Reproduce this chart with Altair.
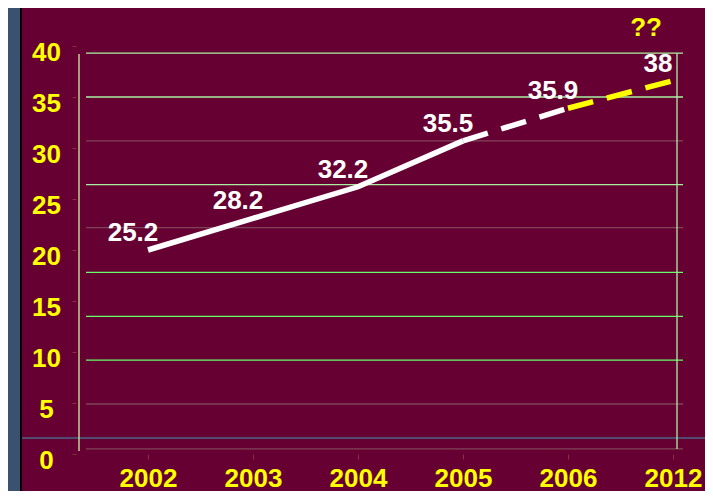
import altair as alt
import pandas as pd

# ---- data ----
years = ["2002", "2003", "2004", "2005", "2006", "2012"]
line_values = [20.0, 23.1, 26.2, 30.7, 33.9, 36.6]          # where the drawn line sits
point_labels = ["25.2", "28.2", "32.2", "35.5", "35.9", "38"]  # printed numbers
segment = ["actual", "actual", "actual", "actual", "trend", "forecast"]

y_ticks = [0, 5, 10, 15, 20, 25, 30, 35, 40]
grid_values = [39.3, 35.0, 30.7, 26.4, 22.2, 17.8, 13.5, 9.2, 4.9, 0.5]
grid_kind = ["pale", "pale", "dark", "pale", "dark", "bright", "bright", "bright", "dark", "dark"]

MAROON = "#660033"
BLUEGREY = "#3a5270"
YELLOW = "#ffff00"
FONT = "Liberation Sans"
FS = 26

df = pd.DataFrame({"year": years, "v": line_values, "label": point_labels,
                   "idx": list(range(len(years))), "seg": segment})
grid_df = pd.DataFrame({"v": grid_values, "kind": grid_kind})
one = pd.DataFrame({"a": [0]})

x_scale = alt.Scale(type="point", range=[69, 594], padding=0)
y_scale = alt.Scale(domain=[0, 40])

x_axis = alt.Axis(title=None, labelAngle=0, domain=False, grid=False,
                  tickSize=5, tickColor="#8a3040", labelColor=YELLOW,
                  labelFont=FONT, labelFontWeight="bold", labelFontSize=FS,
                  labelBaseline="middle", labelPadding=19)
y_axis = alt.Axis(title=None, values=y_ticks, domain=False, grid=False,
                  offset=3, tickSize=4, tickColor="#8a3040",
                  labelColor=YELLOW, labelFont=FONT, labelFontWeight="bold",
                  labelFontSize=FS, labelAlign="center", labelBaseline="middle",
                  labelPadding=26, labelOffset=6)

x_enc = alt.X("year:O", sort=years, scale=x_scale, axis=x_axis)
y_enc = alt.Y("v:Q", scale=y_scale, axis=y_axis)

# decorative frame pieces
left_strip = alt.Chart(one).mark_rect(color=BLUEGREY).encode(
    x=alt.value(-80), x2=alt.value(-59), y=alt.value(-50), y2=alt.value(500))
left_border = alt.Chart(one).mark_rule(color="#000000", strokeWidth=2).encode(
    x=alt.value(-58), y=alt.value(-50), y2=alt.value(500))
blue_line = alt.Chart(one).mark_rule(color="#4a6486", strokeWidth=1.5).encode(
    x=alt.value(-57), x2=alt.value(700), y=alt.value(392))

grid = alt.Chart(grid_df).mark_rule(strokeWidth=1.3).encode(
    y=alt.Y("v:Q", scale=y_scale, axis=y_axis),
    x=alt.value(7), x2=alt.value(604),
    color=alt.Color("kind:N", legend=None,
                    scale=alt.Scale(domain=["pale", "bright", "dark"],
                                    range=["#a8f0a0", "#66ff66", "#804458"])))

vlines_left = alt.Chart(one).mark_rule(color="#d0f0a0", strokeWidth=1.3).encode(
    x=alt.value(0), y=alt.value(8), y2=alt.value(405))
vlines_right = alt.Chart(one).mark_rule(color="#b0f0a0", strokeWidth=1.3).encode(
    x=alt.value(598), y=alt.value(7), y2=alt.value(403))

base = alt.Chart(df).encode(x=x_enc, y=y_enc)

solid = base.mark_line(color="white", strokeWidth=5.5, strokeCap="butt").transform_filter(
    "datum.idx <= 3")
dashed_white = base.mark_line(color="white", strokeWidth=5.5, strokeCap="butt",
                              strokeDash=[26, 14]).transform_filter(
    "datum.idx >= 3 && datum.idx <= 4")
dashed_yellow = base.mark_line(color=YELLOW, strokeWidth=5.5, strokeCap="butt",
                               strokeDash=[26, 14]).transform_filter("datum.idx >= 4")

labels = base.mark_text(color="white", font=FONT, fontWeight="bold", fontSize=FS,
                        align="center", baseline="middle", dx=-15, dy=-17).encode(
    text="label:N")

question = base.mark_text(color=YELLOW, font=FONT, fontWeight="bold", fontSize=FS,
                          align="center", baseline="middle", dx=-27, dy=-53,
                          text="??").transform_filter("datum.seg == 'forecast'")

chart = alt.layer(
    left_strip, left_border, grid, blue_line, vlines_left, vlines_right,
    solid, dashed_white, dashed_yellow, labels, question
).properties(
    width=598, height=408,
    autosize=alt.AutoSizeParams(type="none"),
    padding={"left": 71, "top": 38, "right": 28, "bottom": 37},
    background=MAROON,
).configure_view(stroke=None)

chart.save("out.html", embed_options={"renderer": "svg", "actions": False})
